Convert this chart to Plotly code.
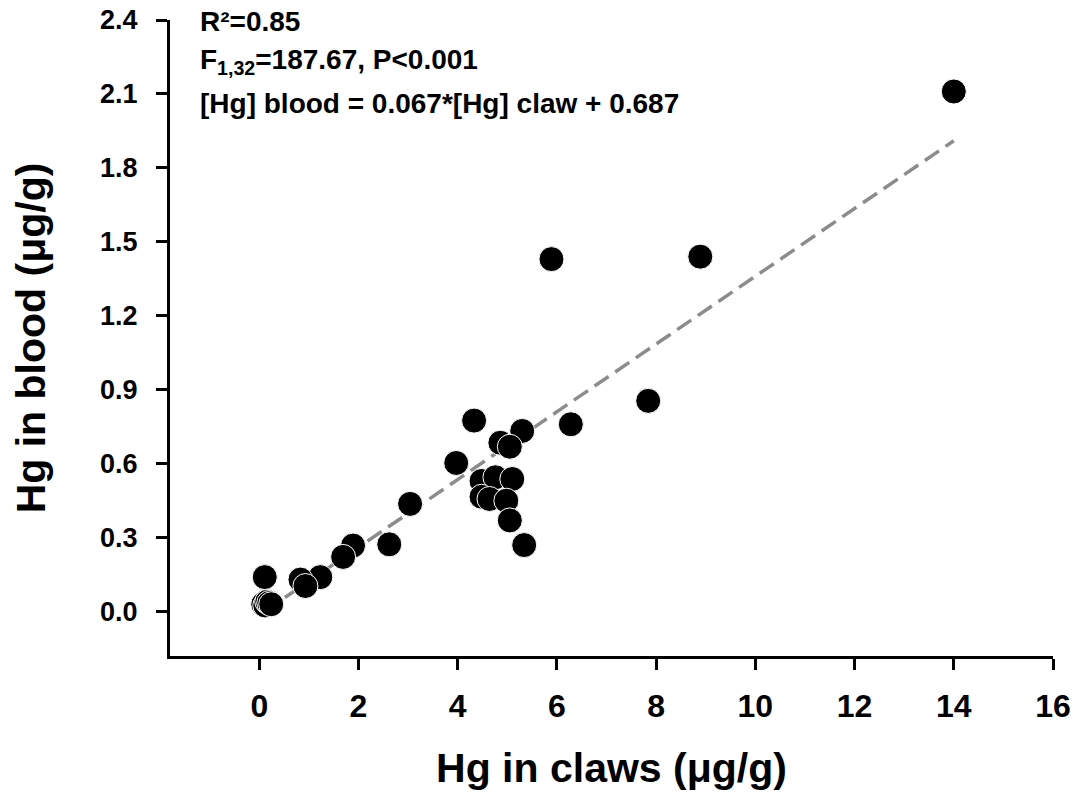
import plotly.graph_objects as go

# Hg concentrations
claw_hg = [14.0, 8.89, 5.89, 7.84, 6.28, 5.30, 4.33, 4.86, 5.05, 3.97,
           3.04, 4.48, 4.76, 5.10, 4.48, 4.64, 4.98, 5.05, 5.34, 2.62,
           1.89, 1.69, 1.23, 0.83, 0.93, 0.11, 0.08, 0.12, 0.16, 0.20, 0.24]
blood_hg = [2.11, 1.44, 1.43, 0.855, 0.76, 0.733, 0.775, 0.685, 0.669, 0.603,
            0.437, 0.530, 0.545, 0.538, 0.466, 0.457, 0.450, 0.370, 0.270, 0.273,
            0.268, 0.222, 0.140, 0.130, 0.104, 0.140, 0.030, 0.025, 0.040, 0.035, 0.030]

# fitted regression line end points
fit_x = [0.1, 14.0]
fit_y = [0.0, 1.91]

x_ticks = [0, 2, 4, 6, 8, 10, 12, 14, 16]
y_ticks = [0.0, 0.3, 0.6, 0.9, 1.2, 1.5, 1.8, 2.1, 2.4]
y_tick_labels = ["0.0", "0.3", "0.6", "0.9", "1.2", "1.5", "1.8", "2.1", "2.4"]

stats_lines = ["R²=0.85",
               "F<sub>1,32</sub>=187.67, P&lt;0.001",
               "[Hg] blood = 0.067*[Hg] claw + 0.687"]

FONT = "Liberation Sans, Arial, sans-serif"

fig = go.Figure()
fig.add_trace(go.Scatter(
    x=fit_x, y=fit_y, mode="lines",
    line=dict(color="#8c8c8c", width=3.5, dash="17px,8px"),
    hoverinfo="skip", showlegend=False))
fig.add_trace(go.Scatter(
    x=claw_hg, y=blood_hg, mode="markers",
    marker=dict(size=25, color="black", line=dict(color="white", width=1)),
    showlegend=False))

ann_y = [0.997, 0.934, 0.868]
for txt, yy in zip(stats_lines, ann_y):
    fig.add_annotation(
        text="<b>" + txt + "</b>", xref="paper", yref="paper",
        x=0.032, y=yy, xanchor="left", yanchor="middle", showarrow=False,
        font=dict(family=FONT, size=28, color="black"))

fig.update_layout(
    width=1081, height=800,
    margin=dict(l=170, r=28, t=20, b=144),
    plot_bgcolor="white", paper_bgcolor="white",
    font=dict(family=FONT, color="black"),
)
fig.update_xaxes(
    range=[-1.8, 16], tickmode="array", tickvals=x_ticks,
    ticktext=[f"<b>{v}</b>" for v in x_ticks],
    showgrid=False, zeroline=False,
    showline=True, linecolor="black", linewidth=3,
    ticks="outside", ticklen=11, tickwidth=3, tickcolor="black",
    ticklabelstandoff=9, ticklabeloverflow="allow",
    tickfont=dict(family=FONT, size=32, color="black"),
    title=dict(text="<b>Hg in claws (μg/g)</b>", standoff=30,
               font=dict(family=FONT, size=41, color="black")),
    automargin=False,
)
fig.update_yaxes(
    range=[-0.18, 2.4], tickmode="array", tickvals=y_ticks,
    ticktext=[f"<b>{t}</b>" for t in y_tick_labels],
    showgrid=False, zeroline=False,
    showline=True, linecolor="black", linewidth=3,
    ticks="outside", ticklen=11, tickwidth=3, tickcolor="black",
    ticklabelstandoff=13, ticklabeloverflow="allow",
    tickfont=dict(family=FONT, size=27, color="black"),
    title=dict(text="<b>Hg in blood (μg/g)</b>", standoff=42,
               font=dict(family=FONT, size=41, color="black")),
    automargin=False,
)

# remove the default 8px page margin so the figure fills the window 1:1
fig.write_html("out.html", config={"displayModeBar": False},
               post_script="document.body.style.margin='0';")
